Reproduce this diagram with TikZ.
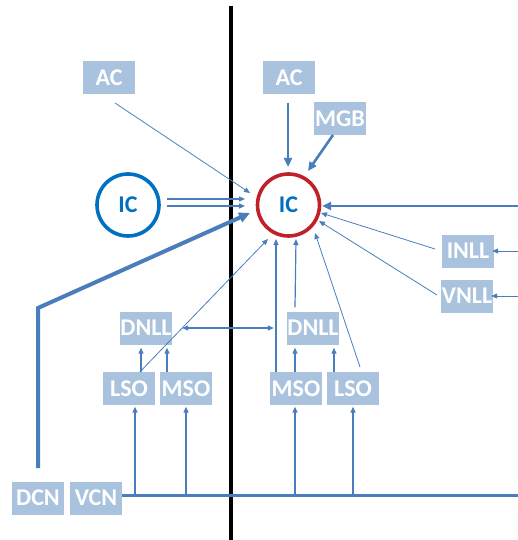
\documentclass[tikz,border=0pt]{standalone}
\usepackage{fontspec}
\setmainfont{Carlito}
\usetikzlibrary{arrows.meta}
\definecolor{lnc}{RGB}{74,126,187}
\definecolor{boxc}{RGB}{169,195,222}
\definecolor{icblue}{RGB}{0,112,192}
\definecolor{icred}{RGB}{192,32,40}
\begin{document}
\begin{tikzpicture}[x=1pt,y=-1pt,
 box/.style={fill=boxc, text=white, font=\bfseries\fontsize{24}{24}\selectfont, minimum width=52pt, minimum height=33pt, inner sep=0pt},
 circ/.style={circle, line width=3.6pt, minimum size=62pt, inner sep=0pt, text=icblue, font=\bfseries\fontsize{24}{24}\selectfont},
 tln/.style={draw=lnc, line width=0.8pt, -{Triangle[length=6pt,width=5pt]}},
 mln/.style={draw=lnc, line width=1.2pt, -{Triangle[length=6pt,width=5pt]}},
 kln/.style={draw=lnc, line width=2.6pt, -{Triangle[length=9pt,width=8pt]}},
 hln/.style={draw=lnc, line width=4pt, -{Triangle[length=11pt,width=10pt]}}]
\useasboundingbox (0,0) rectangle (518,540);
% midline
\draw[line width=4.5pt, black] (231,6) -- (231,540);
% nodes
\node[box] (ACl) at (109,77.5) {AC};
\node[box] (ACr) at (289,77.5) {AC};
\node[box] (MGB) at (340,119) {MGB};
\node[circ, draw=icblue] (ICl) at (128,205) {IC};
\node[circ, draw=icred] (ICr) at (288.5,205) {IC};
\node[box] (INLL) at (468,251) {INLL};
\node[box] (VNLL) at (467,296) {VNLL};
\node[box] (DNLLl) at (146,328) {DNLL};
\node[box] (LSOl) at (129,388.5) {LSO};
\node[box] (MSOl) at (186,388.5) {MSO};
\node[box] (DCN) at (38,498) {DCN};
\node[box] (VCN) at (96,498) {VCN};
\node[box] (DNLLr) at (313,328) {DNLL};
\node[box] (MSOr) at (296,388.5) {MSO};
\node[box] (LSOr) at (353,388.5) {LSO};
% free ends
\coordinate (aclS) at (115,103);
\coordinate (icrA) at (250,193);
\coordinate (iclU) at (167,199);
\coordinate (iclD) at (167,206);
\coordinate (icrU) at (245,199);
\coordinate (icrD) at (245,206);
\coordinate (dcnT) at (38,468);
\coordinate (dcnK) at (38,308);
\coordinate (icrB) at (250,213);
\coordinate (acrS) at (288,103);
\coordinate (icrN) at (288,167);
\coordinate (mgbS) at (333,135);
\coordinate (icrNE) at (308,171);
\coordinate (rEdge) at (518,206);
\coordinate (icrE) at (322,206);
\coordinate (inllW) at (435,249);
\coordinate (icrE1) at (321,213);
\coordinate (vnllW) at (437,295);
\coordinate (icrE2) at (319,221);
\coordinate (inllIn) at (518,251);
\coordinate (vnllIn) at (518,296);
\coordinate (lsorT) at (360,367);
\coordinate (icrSE) at (315,233);
\coordinate (icrS1) at (276,239);
\coordinate (icrS2) at (296,239);
\coordinate (icrSW) at (268,239);
\coordinate (vcnEnd) at (518,495);
\coordinate (t1) at (135,495);
\coordinate (t2) at (186,495);
\coordinate (t3) at (295,495);
\coordinate (t4) at (353,495);
% connectors
\draw[tln] (aclS) -- (icrA);
\draw[mln] (iclU) -- (icrU);
\draw[mln] (iclD) -- (icrD);
\draw[hln] (dcnT) -- (dcnK) -- (icrB);
\draw[kln] (acrS) -- (icrN);
\draw[kln] (mgbS) -- (icrNE);
\draw[kln] (rEdge) -- (icrE);
\draw[tln] (inllW) -- (icrE1);
\draw[tln] (vnllW) -- (icrE2);
\draw[tln] (inllIn) -- ([xshift=-2pt]INLL.east);
\draw[tln] (vnllIn) -- ([xshift=-2pt]VNLL.east);
\draw[tln] (lsorT) -- (icrSE);
\draw[mln] ([xshift=-20pt]MSOr.north) -- (icrS1);
\draw[mln] ([xshift=-18pt,yshift=4pt]DNLLr.north) -- (icrS2);
\draw[tln] ([xshift=11pt]LSOl.north) -- (icrSW);
\draw[mln] ([xshift=12pt]LSOl.north) -- ([xshift=-5pt,yshift=-3pt]DNLLl.south);
\draw[mln] ([xshift=-19pt]MSOl.north) -- ([xshift=21pt,yshift=-3pt]DNLLl.south);
\draw[mln] ([xshift=-1pt]MSOr.north) -- ([xshift=-18pt,yshift=-3pt]DNLLr.south);
\draw[mln] ([xshift=-19pt]LSOr.north) -- ([xshift=21pt,yshift=-3pt]DNLLr.south);
\draw[draw=lnc, line width=1.2pt, {Triangle[length=6pt,width=5pt]}-{Triangle[length=6pt,width=5pt]}] ([xshift=10pt]DNLLl.east) -- ([xshift=-13pt]DNLLr.west);
\draw[draw=lnc, line width=3pt] (VCN.east |- vcnEnd) -- (vcnEnd);
\draw[mln] (t1) -- ([xshift=6pt,yshift=-1.5pt]LSOl.south);
\draw[mln] (t2) -- ([yshift=-1.5pt]MSOl.south);
\draw[mln] (t3) -- ([xshift=-1pt,yshift=-1.5pt]MSOr.south);
\draw[mln] (t4) -- ([yshift=-1.5pt]LSOr.south);
\end{tikzpicture}
\end{document}
